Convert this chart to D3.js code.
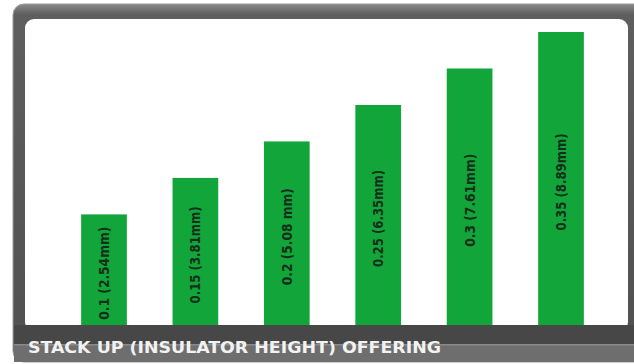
<!DOCTYPE html>
<html>
<head>
<meta charset="utf-8">
<script src="https://cdn.jsdelivr.net/npm/d3@7"></script>
<style>
html,body{margin:0;padding:0;background:#ffffff;}
svg{display:block;}
</style>
</head>
<body>
<svg id="chart" width="634" height="364"></svg>
<script>
const categories = ["0.1", "0.15", "0.2", "0.25", "0.3", "0.35"];
const values = [0.1, 0.15, 0.2, 0.25, 0.3, 0.35];
const barLabels = ["0.1 (2.54mm)", "0.15 (3.81mm)", "0.2 (5.08 mm)", "0.25 (6.35mm)", "0.3 (7.61mm)", "0.35 (8.89mm)"];
const title = "STACK UP (INSULATOR HEIGHT) OFFERING";

const svg = d3.select("#chart");
const defs = svg.append("defs");

const fg = defs.append("linearGradient").attr("id","frameGrad").attr("x1",0).attr("y1",0).attr("x2",0).attr("y2",1);
fg.append("stop").attr("offset","0%").attr("stop-color","#8a8a8a");
fg.append("stop").attr("offset","3%").attr("stop-color","#5e5e5e");
fg.append("stop").attr("offset","100%").attr("stop-color","#505050");

// outer frame
svg.append("rect").attr("x",13).attr("y",4).attr("width",640).attr("height",358).attr("rx",11)
  .attr("fill","url(#frameGrad)").attr("stroke","#9a9a9a").attr("stroke-width",1);

// inner white panel
svg.append("rect").attr("x",25).attr("y",19).attr("width",603).attr("height",312).attr("rx",9)
  .attr("fill","#ffffff");

// scales
const x = d3.scaleBand().domain(categories).range([58.3, 606.7]).paddingInner(0.5).paddingOuter(0.25);
const y = d3.scaleLinear().domain([-0.053, 0.35]).range([326, 32]);

const g = svg.append("g");
g.selectAll("rect.bar").data(values).join("rect")
  .attr("class","bar")
  .attr("x",(d,i)=>x(categories[i]))
  .attr("y",d=>y(d))
  .attr("width",x.bandwidth())
  .attr("height",d=>y(-0.053)-y(d))
  .attr("fill","#12a53a");

g.selectAll("text.lbl").data(values).join("text")
  .attr("class","lbl")
  .attr("transform",(d,i)=>{
    const cx = x(categories[i]) + x.bandwidth()/2 + 5;
    const cy = (y(d) + 332)/2;
    return `translate(${cx},${cy}) rotate(-90)`;
  })
  .attr("text-anchor","middle")
  .attr("font-family","'DejaVu Sans Condensed','Liberation Sans Narrow',sans-serif")
  .attr("font-weight","bold")
  .attr("font-size",13.5)
  .attr("fill","#15301a")
  .attr("textLength",(d,i)=>barLabels[i].length>12?97:93)
  .attr("lengthAdjust","spacingAndGlyphs")
  .text((d,i)=>barLabels[i]);

// bottom bands
svg.append("rect").attr("x",14).attr("y",325).attr("width",620).attr("height",19).attr("fill","#474747");
svg.append("rect").attr("x",14).attr("y",344).attr("width",620).attr("height",18).attr("fill","#6e6e6e");
svg.append("rect").attr("x",14).attr("y",344).attr("width",620).attr("height",1.5).attr("fill","#8a8a8a");

svg.append("text")
  .attr("x",28).attr("y",353)
  .attr("font-family","'DejaVu Sans Condensed',sans-serif")
  .attr("font-weight","bold")
  .attr("font-size",16.5)
  .attr("fill","#f2f2f2")
  .attr("textLength",413)
  .attr("lengthAdjust","spacingAndGlyphs")
  .text(title);
</script>
</body>
</html>
